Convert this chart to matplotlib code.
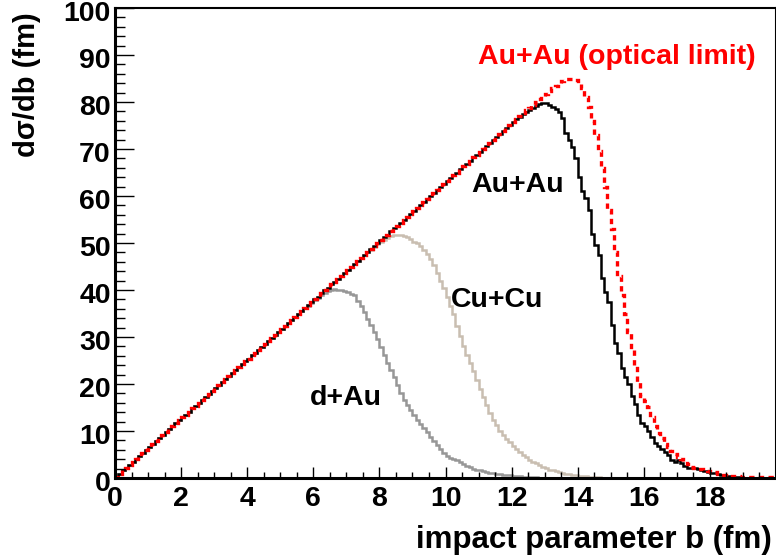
import numpy as np
import matplotlib
matplotlib.use("Agg")
import matplotlib.pyplot as plt
import matplotlib.transforms as mtransforms
from matplotlib.ticker import MultipleLocator

plt.rcParams['font.family'] = ['Liberation Sans', 'DejaVu Sans']
plt.rcParams['font.weight'] = 'bold'

# binning of the histograms (fm)
b_lo, b_hi, n_bins = 0.0, 20.0, 200

# d sigma / db per 0.1 fm bin (one row = 1 fm)
dau = [
    0.3, 0.9, 1.6, 2.2, 2.8, 3.5, 4.1, 4.7, 5.3, 6.0,
    6.6, 7.2, 7.9, 8.5, 9.1, 9.7, 10.4, 11.0, 11.6, 12.3,
    12.9, 13.5, 14.1, 14.8, 15.4, 16.0, 16.6, 17.3, 17.9, 18.5,
    19.2, 19.8, 20.4, 21.0, 21.7, 22.3, 22.9, 23.6, 24.2, 24.8,
    25.4, 26.1, 26.7, 27.3, 27.9, 28.6, 29.2, 29.8, 30.5, 31.1,
    31.7, 32.4, 33.0, 33.6, 34.2, 34.9, 35.5, 36.1, 36.7, 37.3,
    37.9, 38.4, 38.9, 39.4, 39.8, 40.1, 40.2, 40.1, 39.9, 39.7,
    39.5, 39.2, 38.9, 37.6, 36.6, 35.3, 33.9, 32.5, 31.1, 29.5,
    27.9, 26.2, 24.5, 22.9, 21.5, 19.8, 18.0, 16.6, 15.5, 14.5,
    13.4, 12.3, 11.5, 10.7, 9.8, 8.8, 7.9, 7.0, 6.2, 5.4,
    4.6, 4.3, 4.1, 3.8, 3.4, 3.0, 2.6, 2.3, 2.0, 1.8,
    1.6, 1.4, 1.3, 1.1, 1.0, 0.9, 0.8, 0.7, 0.6, 0.55,
    0.5, 0.4, 0.35, 0.3, 0.25, 0.2, 0.2, 0.15, 0.1, 0.1,
    0.05, 0.05, 0.05, 0, 0, 0, 0, 0, 0, 0,
    0, 0, 0, 0, 0, 0, 0, 0, 0, 0,
    0, 0, 0, 0, 0, 0, 0, 0, 0, 0,
    0, 0, 0, 0, 0, 0, 0, 0, 0, 0,
    0, 0, 0, 0, 0, 0, 0, 0, 0, 0,
    0, 0, 0, 0, 0, 0, 0, 0, 0, 0,
    0, 0, 0, 0, 0, 0, 0, 0, 0, 0,
]

cucu = [
    0.3, 0.9, 1.6, 2.2, 2.8, 3.5, 4.1, 4.7, 5.3, 6.0,
    6.6, 7.2, 7.9, 8.5, 9.1, 9.7, 10.4, 11.0, 11.6, 12.3,
    12.9, 13.5, 14.1, 14.8, 15.4, 16.0, 16.6, 17.3, 17.9, 18.5,
    19.2, 19.8, 20.4, 21.0, 21.7, 22.3, 22.9, 23.6, 24.2, 24.8,
    25.4, 26.1, 26.7, 27.3, 27.9, 28.6, 29.2, 29.8, 30.5, 31.1,
    31.7, 32.4, 33.0, 33.6, 34.2, 34.9, 35.5, 36.1, 36.8, 37.4,
    38.0, 38.6, 39.3, 39.9, 40.5, 41.2, 41.8, 42.4, 43.0, 43.7,
    44.3, 44.9, 45.5, 46.2, 46.8, 47.4, 48.0, 48.6, 49.2, 49.7,
    50.2, 50.7, 51.1, 51.4, 51.6, 51.7, 51.7, 51.5, 51.2, 50.8,
    50.3, 49.9, 49.4, 48.6, 47.6, 46.6, 45.3, 43.7, 42.0, 40.4,
    38.5, 36.7, 34.8, 32.4, 30.2, 28.0, 26.2, 24.5, 22.7, 20.8,
    19.0, 17.2, 15.5, 13.8, 12.4, 11.2, 10.1, 9.1, 8.3, 7.6,
    6.9, 6.2, 5.6, 5.0, 4.4, 3.9, 3.5, 3.1, 2.7, 2.4,
    2.1, 1.8, 1.6, 1.4, 1.2, 1.0, 0.9, 0.8, 0.7, 0.6,
    0.5, 0.4, 0.35, 0.3, 0.25, 0.2, 0.15, 0.1, 0.1, 0.05,
    0, 0, 0, 0, 0, 0, 0, 0, 0, 0,
    0, 0, 0, 0, 0, 0, 0, 0, 0, 0,
    0, 0, 0, 0, 0, 0, 0, 0, 0, 0,
    0, 0, 0, 0, 0, 0, 0, 0, 0, 0,
    0, 0, 0, 0, 0, 0, 0, 0, 0, 0,
]

auau = [
    0.3, 0.9, 1.6, 2.2, 2.8, 3.5, 4.1, 4.7, 5.3, 6.0,
    6.6, 7.2, 7.9, 8.5, 9.1, 9.7, 10.4, 11.0, 11.6, 12.3,
    12.9, 13.5, 14.1, 14.8, 15.4, 16.0, 16.6, 17.3, 17.9, 18.5,
    19.2, 19.8, 20.4, 21.0, 21.7, 22.3, 22.9, 23.6, 24.2, 24.8,
    25.4, 26.1, 26.7, 27.3, 27.9, 28.6, 29.2, 29.8, 30.5, 31.1,
    31.7, 32.4, 33.0, 33.6, 34.2, 34.9, 35.5, 36.1, 36.8, 37.4,
    38.0, 38.6, 39.3, 39.9, 40.5, 41.2, 41.8, 42.4, 43.0, 43.7,
    44.3, 44.9, 45.5, 46.2, 46.8, 47.4, 48.1, 48.7, 49.3, 49.9,
    50.6, 51.2, 51.8, 52.5, 53.1, 53.7, 54.3, 55.0, 55.6, 56.2,
    56.9, 57.5, 58.1, 58.7, 59.4, 60.0, 60.6, 61.3, 61.9, 62.5,
    63.1, 63.8, 64.4, 65.0, 65.7, 66.3, 66.9, 67.5, 68.2, 68.8,
    69.4, 70.1, 70.7, 71.3, 71.9, 72.6, 73.2, 73.8, 74.4, 75.1,
    75.7, 76.3, 76.9, 77.4, 77.9, 78.4, 78.8, 79.2, 79.5, 79.8,
    79.7, 79.4, 79.0, 78.6, 77.9, 76.5, 73.5, 72.0, 70.5, 68.0,
    64.0, 61.0, 59.5, 57.0, 52.0, 49.5, 47.5, 42.5, 39.5, 37.5,
    32.5, 28.7, 26.5, 23.5, 21.5, 20.0, 17.5, 15.8, 13.5, 11.7,
    11.0, 10.0, 8.8, 7.4, 6.8, 6.2, 5.5, 5.0, 3.8, 3.4,
    3.8, 3.2, 2.5, 2.2, 2.2, 2.1, 2.0, 1.6, 1.5, 1.3,
    1.1, 1.0, 0.8, 0.6, 0.5, 0.4, 0.3, 0.25, 0.2, 0.15,
    0.1, 0.1, 0.05, 0.05, 0, 0, 0, 0, 0, 0,
]

auau_optical = [
    0.3, 0.9, 1.6, 2.2, 2.8, 3.5, 4.1, 4.7, 5.3, 6.0,
    6.6, 7.2, 7.9, 8.5, 9.1, 9.7, 10.4, 11.0, 11.6, 12.3,
    12.9, 13.5, 14.1, 14.8, 15.4, 16.0, 16.6, 17.3, 17.9, 18.5,
    19.2, 19.8, 20.4, 21.0, 21.7, 22.3, 22.9, 23.6, 24.2, 24.8,
    25.4, 26.1, 26.7, 27.3, 27.9, 28.6, 29.2, 29.8, 30.5, 31.1,
    31.7, 32.4, 33.0, 33.6, 34.2, 34.9, 35.5, 36.1, 36.8, 37.4,
    38.0, 38.6, 39.3, 39.9, 40.5, 41.2, 41.8, 42.4, 43.0, 43.7,
    44.3, 44.9, 45.5, 46.2, 46.8, 47.4, 48.1, 48.7, 49.3, 49.9,
    50.6, 51.2, 51.8, 52.5, 53.1, 53.7, 54.3, 55.0, 55.6, 56.2,
    56.9, 57.5, 58.1, 58.7, 59.4, 60.0, 60.6, 61.3, 61.9, 62.5,
    63.1, 63.8, 64.4, 65.0, 65.7, 66.3, 66.9, 67.5, 68.2, 68.8,
    69.4, 70.1, 70.7, 71.3, 71.9, 72.6, 73.2, 73.8, 74.4, 75.1,
    75.7, 76.3, 77.0, 77.6, 78.2, 78.8, 79.4, 80.0, 80.6, 81.2,
    81.8, 82.4, 83.0, 83.5, 84.0, 84.4, 84.8, 85.0, 85.0, 84.7,
    84.0, 83.0, 81.0, 79.0, 76.0, 73.0, 69.5, 66.0, 62.0, 57.0,
    53.0, 48.0, 43.0, 39.0, 35.0, 31.0, 27.5, 24.0, 20.5, 17.5,
    16.3, 15.2, 13.0, 11.0, 9.5, 8.5, 7.3, 6.5, 5.8, 5.2,
    4.5, 4.0, 3.6, 3.0, 2.4, 2.1, 2.0, 1.9, 1.8, 1.5,
    1.3, 1.2, 0.9, 0.7, 0.6, 0.5, 0.4, 0.4, 0.35, 0.3,
    0.3, 0.3, 0.3, 0.25, 0.25, 0.25, 0.2, 0.2, 0.2, 0.2,
]

edges = np.linspace(b_lo, b_hi, n_bins + 1)

fig = plt.figure(figsize=(7.76, 5.56), dpi=100)
ax = fig.add_axes([115 / 776, 78 / 556, 661 / 776, 470 / 556])

ax.stairs(dau, edges, color='#979797', lw=1.8)
ax.stairs(cucu, edges, color='#c9beb1', lw=1.8)
ax.stairs(auau, edges, color='black', lw=1.8)
ax.stairs(auau_optical, edges, color='#ff0000', lw=2.4, linestyle=(0, (1.6, 1.3)))

ax.set_xlim(0, 20)
ax.set_ylim(0, 100)

# ROOT-like frame and ticks
for side in ['left', 'bottom']:
    ax.spines[side].set_linewidth(2.2)
for side in ['top', 'right']:
    ax.spines[side].set_linewidth(1.5)

ax.xaxis.set_major_locator(MultipleLocator(2))
ax.xaxis.set_minor_locator(MultipleLocator(0.5))
ax.yaxis.set_major_locator(MultipleLocator(10))
ax.yaxis.set_minor_locator(MultipleLocator(2))
ax.set_xticks([0, 2, 4, 6, 8, 10, 12, 14, 16, 18])

ax.tick_params(axis='x', which='major', direction='in', length=8, width=1, pad=6,
               labelsize=20.5)
ax.tick_params(axis='x', which='minor', direction='in', length=4.5, width=1)
ax.tick_params(axis='y', which='major', direction='in', length=14, width=1, pad=3,
               labelsize=20.5)
ax.tick_params(axis='y', which='minor', direction='in', length=7, width=1)

# y tick labels sit a little below their ticks in the original
shift = mtransforms.ScaledTranslation(0, -3 / 100, fig.dpi_scale_trans)
for lab in ax.get_yticklabels():
    lab.set_transform(lab.get_transform() + shift)

ax.set_xlabel('impact parameter b (fm)', fontsize=22.5, fontweight='bold', va='center')
ax.set_ylabel('d\u03c3/db (fm)', fontsize=21, fontweight='bold', va='center')
ax.xaxis.set_label_coords(0.725, -0.132)
ax.yaxis.set_label_coords(-0.133, 0.836)

ax.text(15.17, 89.6, 'Au+Au (optical limit)', color='#ff0000', fontsize=20.5,
        fontweight='bold', ha='center', va='center')
ax.text(12.18, 62.3, 'Au+Au', color='black', fontsize=20.5, fontweight='bold',
        ha='center', va='center')
ax.text(11.57, 37.9, 'Cu+Cu', color='black', fontsize=20.5, fontweight='bold',
        ha='center', va='center')
ax.text(7.0, 17.0, 'd+Au', color='black', fontsize=20.5, fontweight='bold',
        ha='center', va='center')

fig.savefig('out.png', dpi=100)
